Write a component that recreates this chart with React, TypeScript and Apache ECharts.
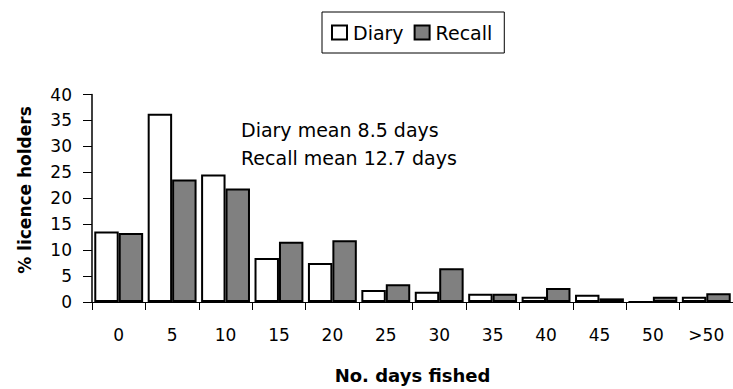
import React, { useEffect, useRef } from "react";
import * as echarts from "echarts";

// Days fished bins (x-axis categories)
const categories = ["0", "5", "10", "15", "20", "25", "30", "35", "40", "45", "50", ">50"];

// % of licence holders per bin
const diaryValues = [13.6, 36.3, 24.6, 8.5, 7.5, 2.3, 2.0, 1.6, 1.0, 1.4, 0, 1.0];
const recallValues = [13.3, 23.6, 21.9, 11.6, 11.9, 3.4, 6.5, 1.6, 2.7, 0.7, 1.0, 1.7];

const seriesNames = ["Diary", "Recall"];
const notes = ["Diary mean 8.5 days", "Recall mean 12.7 days"];
const yTitle = "% licence holders";
const xTitle = "No. days fished";

const FONT = "DejaVu Sans";

export default function App() {
  const ref = useRef<HTMLDivElement>(null);

  useEffect(() => {
    if (!ref.current) return;
    const chart = echarts.init(ref.current, undefined, { renderer: "svg" });
    chart.setOption({
      animation: false,
      backgroundColor: "#fff",
      textStyle: { fontFamily: FONT, color: "#000" },
      legend: {
        data: seriesNames,
        left: 322,
        top: 12,
        orient: "horizontal",
        padding: [11, 12, 11, 9],
        borderColor: "#000",
        borderWidth: 1,
        itemWidth: 15,
        itemHeight: 14,
        itemGap: 10,
        icon: "rect",
        textStyle: { fontFamily: FONT, fontSize: 19, color: "#000", padding: [0, 0, 0, 1] },
      },
      grid: { left: 92, top: 94.5, width: 650, bottom: 83.5, containLabel: false },
      xAxis: {
        type: "category",
        data: categories,
        name: xTitle,
        nameLocation: "middle",
        nameGap: 64,
        nameTextStyle: { fontFamily: FONT, fontSize: 18, fontWeight: "bold", color: "#000" },
        axisLine: { lineStyle: { color: "#000", width: 1 } },
        axisTick: { show: true, length: 8, lineStyle: { color: "#000" } },
        axisLabel: { fontFamily: FONT, fontSize: 17, color: "#000", margin: 24 },
        splitLine: { show: false },
      },
      yAxis: {
        type: "value",
        min: 0,
        max: 40,
        interval: 5,
        axisLine: { show: true, lineStyle: { color: "#000", width: 1.5 } },
        axisTick: { show: true, length: 9, lineStyle: { color: "#000" } },
        axisLabel: { fontFamily: FONT, fontSize: 17, color: "#000", margin: 20 },
        splitLine: { show: false },
      },
      series: [
        {
          name: seriesNames[0],
          type: "bar",
          data: diaryValues,
          barGap: "0%",
          barCategoryGap: "8.5%",
          itemStyle: { color: "#ffffff", borderColor: "#000", borderWidth: 2 },
        },
        {
          name: seriesNames[1],
          type: "bar",
          data: recallValues,
          barGap: "0%",
          barCategoryGap: "8.5%",
          itemStyle: { color: "#808080", borderColor: "#000", borderWidth: 2 },
        },
      ],
      graphic: [
        {
          type: "text",
          x: 25,
          y: 190,
          rotation: Math.PI / 2,
          style: {
            text: yTitle,
            font: `bold 17px "${FONT}"`,
            fill: "#000",
            align: "center",
            verticalAlign: "middle",
          },
        },
        {
          type: "text",
          left: 241,
          top: 120,
          style: { text: notes[0], font: `19px "${FONT}"`, fill: "#000" },
        },
        {
          type: "text",
          left: 241,
          top: 148,
          style: { text: notes[1], font: `19px "${FONT}"`, fill: "#000" },
        },
      ],
    });
    return () => chart.dispose();
  }, []);

  return <div ref={ref} style={{ width: 733, height: 389, position: "absolute", left: 0, top: 0 }} />;
}
